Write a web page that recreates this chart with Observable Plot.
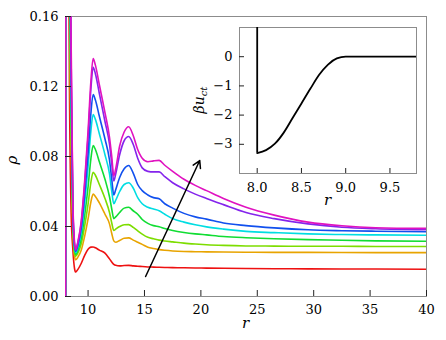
<!DOCTYPE html>
<html><head><meta charset="utf-8">
<script src="https://cdn.jsdelivr.net/npm/d3@7"></script>
<script src="https://cdn.jsdelivr.net/npm/@observablehq/plot@0.6"></script>
<style>
html,body{margin:0;padding:0;background:#fff;}
#wrap{position:relative;width:446px;height:340px;}
#wrap svg{position:absolute;overflow:visible;}
#wrap svg, #wrap svg text, #wrap svg g, #wrap svg tspan{font-family:"DejaVu Serif",serif !important;}
</style></head><body><div id="wrap"></div>
<script>
// ---- main chart data ----
const r = [8.0, 8.2, 8.35, 8.5, 8.65, 8.8, 8.9, 9.1, 9.4, 9.7, 10.0, 10.25, 10.45, 10.65, 11.0, 11.5, 11.9, 12.1, 12.28, 12.45, 12.8, 13.2, 13.6, 14.0, 14.4, 14.8, 15.3, 15.8, 16.3, 16.8, 17.5, 18.5, 19.5, 20.5, 22, 24, 26.5, 29.5, 32.5, 35.5, 40];
const rhoRed = [0.8, 0.3, 0.12, 0.048, 0.027, 0.016, 0.014, 0.0155, 0.019, 0.0235, 0.027, 0.0282, 0.0283, 0.0278, 0.0265, 0.0248, 0.0215, 0.0197, 0.0184, 0.0178, 0.0175, 0.0177, 0.0178, 0.0175, 0.0173, 0.0171, 0.0169, 0.0168, 0.0167, 0.0166, 0.0165, 0.0164, 0.0163, 0.0162, 0.0161, 0.016, 0.0159, 0.0158, 0.0157, 0.0157, 0.0156];
const rhoOrange = [1.0, 0.4, 0.17, 0.085, 0.040, 0.023, 0.021, 0.0225, 0.0266, 0.0345, 0.0443, 0.054, 0.0585, 0.0572, 0.0535, 0.047, 0.0415, 0.036, 0.0318, 0.031, 0.032, 0.0333, 0.0335, 0.0322, 0.031, 0.0298, 0.0282, 0.0274, 0.0268, 0.0264, 0.026, 0.0257, 0.0256, 0.0255, 0.0254, 0.0253, 0.0252, 0.0252, 0.0251, 0.0251, 0.0251];
const rhoYellowGreen = [1.1, 0.45, 0.19, 0.095, 0.043, 0.025, 0.023, 0.0249, 0.0302, 0.0403, 0.0528, 0.0652, 0.071, 0.0693, 0.064, 0.056, 0.048, 0.042, 0.0377, 0.0385, 0.040, 0.041, 0.0411, 0.0395, 0.0375, 0.0356, 0.0338, 0.033, 0.0322, 0.0317, 0.0312, 0.0305, 0.030, 0.0296, 0.0292, 0.0289, 0.0288, 0.0287, 0.0287, 0.0286, 0.0286];
const rhoGreen = [1.2, 0.5, 0.21, 0.105, 0.046, 0.027, 0.024, 0.0265, 0.0333, 0.0464, 0.0626, 0.0787, 0.0862, 0.084, 0.077, 0.067, 0.057, 0.050, 0.0445, 0.0455, 0.048, 0.0505, 0.051, 0.049, 0.047, 0.044, 0.0418, 0.0405, 0.0398, 0.0388, 0.0377, 0.0366, 0.0358, 0.0352, 0.0343, 0.0336, 0.033, 0.0325, 0.0321, 0.0318, 0.0316];
const rhoCyan = [1.3, 0.55, 0.23, 0.115, 0.049, 0.028, 0.025, 0.0282, 0.0369, 0.0534, 0.074, 0.0945, 0.104, 0.1012, 0.093, 0.081, 0.070, 0.060, 0.053, 0.055, 0.060, 0.064, 0.065, 0.062, 0.0565, 0.053, 0.051, 0.050, 0.049, 0.047, 0.0445, 0.0425, 0.041, 0.0398, 0.0385, 0.0372, 0.0365, 0.0358, 0.0354, 0.0352, 0.035];
const rhoBlue = [1.4, 0.6, 0.25, 0.125, 0.051, 0.029, 0.0258, 0.0294, 0.0392, 0.0581, 0.0814, 0.1046, 0.1154, 0.1123, 0.103, 0.090, 0.078, 0.067, 0.058, 0.061, 0.068, 0.073, 0.0749, 0.0705, 0.064, 0.0605, 0.058, 0.0565, 0.0558, 0.053, 0.0505, 0.0475, 0.0455, 0.0442, 0.042, 0.0405, 0.0392, 0.0381, 0.0376, 0.0373, 0.037];
const rhoPurple = [1.5, 0.65, 0.27, 0.135, 0.053, 0.030, 0.0265, 0.0307, 0.0422, 0.0641, 0.0913, 0.1185, 0.131, 0.1273, 0.116, 0.100, 0.087, 0.076, 0.066, 0.070, 0.081, 0.089, 0.0914, 0.087, 0.079, 0.0735, 0.0715, 0.0712, 0.0712, 0.0685, 0.065, 0.0615, 0.0585, 0.056, 0.0525, 0.048, 0.0445, 0.0415, 0.0396, 0.0387, 0.0381];
const rhoMagenta = [1.6, 0.7, 0.29, 0.145, 0.055, 0.031, 0.027, 0.0314, 0.0434, 0.0662, 0.0946, 0.1229, 0.136, 0.1322, 0.121, 0.105, 0.091, 0.080, 0.069, 0.073, 0.086, 0.094, 0.097, 0.092, 0.084, 0.079, 0.077, 0.0775, 0.0778, 0.075, 0.0715, 0.067, 0.0635, 0.0605, 0.056, 0.051, 0.0465, 0.0425, 0.0404, 0.0393, 0.0389];
const seriesNames = ["red", "orange", "yellowgreen", "green", "cyan", "blue", "purple", "magenta"];
const seriesColors = ["#ee1111", "#e8a400", "#7ddd00", "#11dd33", "#00dde2", "#1150ee", "#8424ec", "#e012c0"];
const xTicks = [10, 15, 20, 25, 30, 35, 40];
const yTicks = [0, 0.04, 0.08, 0.12, 0.16];
const arrowStartR = [15.1], arrowStartRho = [0.0114], arrowEndR = [19.9], arrowEndRho = [0.0777];

// ---- inset data ----
const insetR = [8.0, 8.1, 8.2, 8.3, 8.4, 8.5, 8.6, 8.7, 8.8, 8.9, 9.0, 9.4, 9.8];
const insetU = [-3.3, -3.2, -2.98, -2.6, -2.1, -1.6, -1.1, -0.62, -0.27, -0.06, 0, 0, 0];
const insetWallTop = 5;
const insetXTicks = [8.0, 8.5, 9.0, 9.5];
const insetYTicks = [0, -1, -2, -3];

// ---- build tables ----
const seriesValues = [rhoRed, rhoOrange, rhoYellowGreen, rhoGreen, rhoCyan, rhoBlue, rhoPurple, rhoMagenta];
const rows = seriesValues.flatMap((vals, i) => vals.map((v, j) => ({series: seriesNames[i], r: r[j], rho: v})));
const walls = seriesValues.map((vals, i) => ({series: seriesNames[i], r: r[0], lo: 0, hi: vals[0]}));
const arrows = arrowStartR.map((d, i) => ({r1: d, y1: arrowStartRho[i], r2: arrowEndR[i], y2: arrowEndRho[i]}));
const insetRows = insetR.map((d, i) => ({r: d, u: insetU[i]}));
const insetWall = [{r: insetR[0], lo: insetU[0], hi: insetWallTop}];
const minus = d => (d < 0 ? "\u2212" + Math.abs(d) : String(d));

const font = {fontFamily: "DejaVu Serif, serif", fontSize: "13px", background: "transparent", overflow: "visible"};

const main = Plot.plot({
  width: 446, height: 340,
  marginLeft: 65, marginRight: 20, marginTop: 16, marginBottom: 44,
  style: font,
  x: {domain: [8, 40], ticks: xTicks, tickSize: 0, tickPadding: 8, label: null, tickFormat: d => String(d)},
  y: {domain: [0, 0.16], ticks: yTicks, tickSize: 0, tickPadding: 7, label: null, tickFormat: d => d.toFixed(2)},
  color: {domain: seriesNames, range: seriesColors},
  marks: [
    Plot.frame({stroke: "#8c8c8c"}),
    Plot.ruleX(walls, {x: "r", y1: "lo", y2: "hi", stroke: "series", strokeWidth: 1.6, clip: true}),
    Plot.line(rows, {x: "r", y: "rho", z: "series", stroke: "series", strokeWidth: 1.6, curve: "monotone-x", clip: true}),
    Plot.tickX(xTicks, {x: d => d, stroke: "#222", insetTop: 274}),
    Plot.tickY(yTicks, {y: d => d, stroke: "#222", insetRight: 355}),
    Plot.arrow(arrows, {x1: "r1", y1: "y1", x2: "r2", y2: "y2", stroke: "black", strokeWidth: 1.5, headLength: 8})
  ]
});

const inset = Plot.plot({
  width: 228, height: 190,
  marginLeft: 44, marginRight: 7, marginTop: 9, marginBottom: 35,
  style: font,
  x: {domain: [7.8, 9.8], ticks: insetXTicks, tickSize: 0, tickPadding: 9, label: null, tickFormat: d => d.toFixed(1)},
  y: {domain: [-4, 1], ticks: insetYTicks, tickSize: 0, tickPadding: 7, label: null, tickFormat: minus},
  marks: [
    Plot.frame({fill: "white", stroke: "#8c8c8c"}),
    Plot.ruleX(insetWall, {x: "r", y1: "lo", y2: "hi", stroke: "black", strokeWidth: 1.8, clip: true}),
    Plot.line(insetRows, {x: "r", y: "u", stroke: "black", strokeWidth: 1.8, curve: "monotone-x", clip: true}),
    Plot.tickX(insetXTicks, {x: d => d, stroke: "#222", insetTop: 141}),
    Plot.tickY(insetYTicks, {y: d => d, stroke: "#222", insetRight: 172})
  ]
});

const wrap = document.getElementById("wrap");
main.style.left = "0px"; main.style.top = "0px";
inset.style.left = "195px"; inset.style.top = "18px";
wrap.appendChild(main);
wrap.appendChild(inset);

// axis titles
const ms = d3.select(main);
ms.append("text").attr("transform", "translate(17,160) rotate(-90)").attr("text-anchor", "middle")
  .style("font-style", "italic").style("font-size", "15px").text("\u03c1");
ms.append("text").attr("x", 245.5).attr("y", 328).attr("text-anchor", "middle")
  .style("font-style", "italic").style("font-size", "15px").text("r");
const is = d3.select(inset);
const yl = is.append("text").attr("transform", "translate(9,82) rotate(-90)").attr("text-anchor", "middle")
  .style("font-style", "italic").style("font-size", "14px");
yl.append("tspan").text("\u03b2u");
yl.append("tspan").attr("dy", "0.3em").style("font-size", "10px").text("ct");
is.append("text").attr("x", 132.5).attr("y", 187).attr("text-anchor", "middle")
  .style("font-style", "italic").style("font-size", "15px").text("r");
</script>
</body></html>
